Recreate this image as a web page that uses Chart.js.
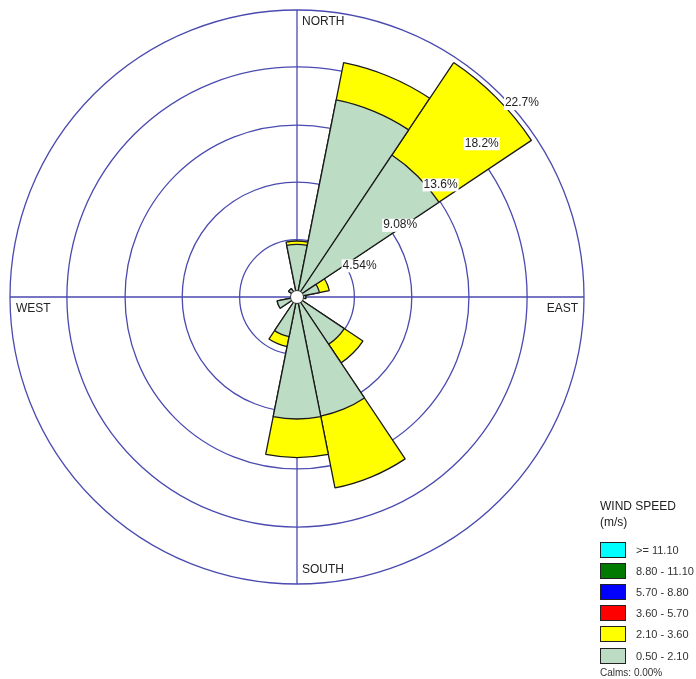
<!DOCTYPE html>
<html>
<head>
<meta charset="utf-8">
<script src="https://cdn.jsdelivr.net/npm/chart.js@4.4.1/dist/chart.umd.min.js"></script>
<style>
  html, body { margin: 0; padding: 0; background: #fff; }
  #wrap { position: relative; width: 696px; height: 679px; overflow: hidden; }
  #legend { position: absolute; left: 600px; top: 498px; font-family: "Liberation Sans", Arial, sans-serif; color: #222; }
  #legend .title { font-size: 12px; line-height: 16px; }
  #legend .row { display: flex; align-items: center; height: 21.2px; }
  #legend .sw { width: 26px; height: 16px; border: 1px solid #222; box-sizing: border-box; margin-right: 10px; }
  #legend .lbl { font-size: 11px; color: #333; }
  #legend .calms { font-size: 10px; color: #333; margin-top: 1px; }
</style>
</head>
<body>
<div id="wrap">
  <canvas id="rose" width="696" height="679"></canvas>
  <div id="legend"></div>
</div>
<script>
'use strict';

// wind directions, clockwise from north
var directions = ['N', 'NNE', 'NE', 'ENE', 'E', 'ESE', 'SE', 'SSE', 'S', 'SSW', 'SW', 'WSW', 'W', 'WNW', 'NW', 'NNW'];

// frequency (%) per direction for each wind speed class
var freq050to210  = [4.17, 15.9, 13.5, 1.8, 0.7, 0, 4.5, 9.6, 9.65, 3.2, 0, 1.6, 0, 0, 0.8, 0];
var freq210to360  = [0.26, 3.0, 8.8, 0.8, 0, 0, 1.77, 5.8, 3.05, 0.8, 0, 0, 0, 0, 0, 0];
var freq360to570  = [0, 0, 0, 0, 0, 0, 0, 0, 0, 0, 0, 0, 0, 0, 0, 0];
var freq570to880  = [0, 0, 0, 0, 0, 0, 0, 0, 0, 0, 0, 0, 0, 0, 0, 0];
var freq880to1110 = [0, 0, 0, 0, 0, 0, 0, 0, 0, 0, 0, 0, 0, 0, 0, 0];
var freqAbove1110 = [0, 0, 0, 0, 0, 0, 0, 0, 0, 0, 0, 0, 0, 0, 0, 0];

// speed classes, slowest first
var speedLabels = ['0.50 - 2.10', '2.10 - 3.60', '3.60 - 5.70', '5.70 - 8.80', '8.80 - 11.10', '>= 11.10'];
var speedColors = ['#bcdcc4', '#ffff00', '#ff0000', '#0000ff', '#007a00', '#00ffff'];
var speedData = [freq050to210, freq210to360, freq360to570, freq570to880, freq880to1110, freqAbove1110];

var ringValues = [0, 4.54, 9.08, 13.6, 18.2, 22.7];
var ringLabels = ['', '4.54%', '9.08%', '13.6%', '18.2%', '22.7%'];
var compassLabels = ['NORTH', 'EAST', 'SOUTH', 'WEST'];
var calmsText = 'Calms: 0.00%';

// stacked rose: each dataset carries the running total, slowest class on top
var datasets = [];
var running = directions.map(function() { return 0; });
speedData.forEach(function(values, k) {
  running = running.map(function(v, i) { return v + values[i]; });
  var used = values.some(function(v) { return v > 0; });
  if (!used) return;
  datasets.push({
    label: speedLabels[k],
    data: running.slice(),
    backgroundColor: speedColors[k],
    borderColor: '#1a1a1a',
    borderWidth: 1.3
  });
});

var FONT = '"Liberation Sans", Arial, sans-serif';
var GRID = '#4a4ab0';

var roseDecor = {
  id: 'roseDecor',
  beforeDatasetsDraw: function(chart) {
    var s = chart.scales.r, ctx = chart.ctx, R = s.drawingArea;
    ctx.save();
    ctx.strokeStyle = GRID;
    ctx.lineWidth = 1.3;
    ctx.beginPath();
    ctx.moveTo(s.xCenter, s.yCenter - R);
    ctx.lineTo(s.xCenter, s.yCenter + R);
    ctx.moveTo(s.xCenter - R, s.yCenter);
    ctx.lineTo(s.xCenter + R, s.yCenter);
    ctx.stroke();
    ctx.restore();
  },
  afterDatasetsDraw: function(chart) {
    var s = chart.scales.r, ctx = chart.ctx, R = s.drawingArea;
    var cx = s.xCenter, cy = s.yCenter;
    ctx.save();

    // calm hole
    ctx.beginPath();
    ctx.arc(cx, cy, 6.5, 0, Math.PI * 2);
    ctx.fillStyle = '#fff';
    ctx.fill();
    ctx.strokeStyle = '#333';
    ctx.lineWidth = 1;
    ctx.stroke();

    // ring labels along the NE diagonal
    ctx.font = '12px ' + FONT;
    ctx.textAlign = 'left';
    ctx.textBaseline = 'top';
    ringValues.forEach(function(v, i) {
      if (!ringLabels[i]) return;
      var r = s.getDistanceFromCenterForValue(v);
      var x = cx + r * Math.SQRT1_2 + 5;
      var y = cy - r * Math.SQRT1_2 + 3;
      var w = ctx.measureText(ringLabels[i]).width;
      ctx.fillStyle = '#fff';
      ctx.fillRect(x - 1, y, w + 2, 13);
      ctx.fillStyle = '#222';
      ctx.fillText(ringLabels[i], x, y);
    });

    // compass words
    ctx.fillStyle = '#222';
    ctx.textBaseline = 'top';
    ctx.textAlign = 'left';
    ctx.fillText(compassLabels[0], cx + 5, cy - R + 6);
    ctx.textAlign = 'right';
    ctx.fillText(compassLabels[1], cx + R - 6, cy + 6);
    ctx.textAlign = 'left';
    ctx.textBaseline = 'bottom';
    ctx.fillText(compassLabels[2], cx + 5, cy + R - 8);
    ctx.textBaseline = 'top';
    ctx.fillText(compassLabels[3], cx - R + 6, cy + 6);
    ctx.restore();
  }
};

new Chart(document.getElementById('rose'), {
  type: 'polarArea',
  data: { labels: directions, datasets: datasets },
  options: {
    responsive: false,
    animation: false,
    layout: { padding: { left: 10, top: 10, right: 112, bottom: 95 } },
    plugins: { legend: { display: false } },
    scales: {
      r: {
        min: 0,
        max: ringValues[ringValues.length - 1],
        startAngle: -360 / directions.length / 2,
        afterBuildTicks: function(scale) {
          scale.ticks = ringValues.map(function(v) { return { value: v }; });
        },
        ticks: { display: false },
        pointLabels: { display: false },
        angleLines: { display: false },
        grid: { circular: true, color: GRID, lineWidth: 1.3 }
      }
    }
  },
  plugins: [roseDecor]
});

// legend, fastest class first
var legend = document.getElementById('legend');
var html = '<div class="title">WIND SPEED</div><div class="title" style="margin-bottom:9px">(m/s)</div>';
for (var k = speedLabels.length - 1; k >= 0; k--) {
  html += '<div class="row"><div class="sw" style="background:' + speedColors[k] + '"></div>' +
          '<span class="lbl">' + speedLabels[k].replace('>', '&gt;') + '</span></div>';
}
html += '<div class="calms">' + calmsText + '</div>';
legend.innerHTML = html;
</script>
</body>
</html>
